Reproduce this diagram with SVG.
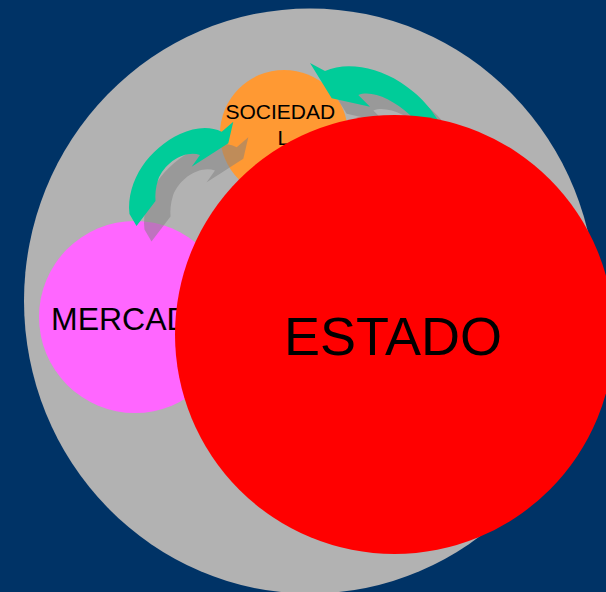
<svg xmlns="http://www.w3.org/2000/svg" width="606" height="592" viewBox="0 0 606 592">
<defs>
<style>
.lbl{font-family:"Liberation Sans",Arial,sans-serif;fill:#000}
.arrow{fill:#00CC99}
.shadow{fill:#808080;opacity:0.5}
</style>
<path id="arrowL" d="M136.5,226 L129.5,214 C126,180 150,148 180,134 C195,127 210,126 221.7,131.7 L233.3,121.7 L228.3,143.3 L191.7,166.7 L200,155 C185,150 165,162 158,180 C155.5,188 155,195 155.5,201 Z"/>
<path id="arrowR" d="M310,63 L325,71 C345,62 375,66 400,82 C420,95 432,108 445,132 L425,140 L410,115 C392,99 372,90 358.3,95 L370,106.7 L331.7,98.3 Z"/>
</defs>
<rect x="0" y="0" width="606" height="592" fill="#003366"/>
<g id="entorno">
<ellipse cx="310" cy="301" rx="286" ry="292.5" fill="#B2B2B2"/>
</g>
<g id="mercado">
<circle cx="135" cy="317" r="96" fill="#FF66FF"/>
<text class="lbl" x="51" y="329.5" font-size="32">MERCADO</text>
</g>
<g id="sociedad">
<circle cx="284" cy="134" r="64" fill="#FF9933"/>
<text class="lbl" x="225.5" y="119" font-size="21">SOCIEDAD</text>
<text class="lbl" x="277.5" y="145" font-size="21">L</text>
</g>
<g id="connectors">
<use href="#arrowL" class="shadow" transform="translate(15,15.5)"/>
<use href="#arrowR" class="shadow" transform="translate(15,15.5)"/>
<use href="#arrowL" class="arrow"/>
<use href="#arrowR" class="arrow"/>
</g>
<g id="estado">
<circle cx="394.5" cy="334.5" r="219.5" fill="#FF0000"/>
<text class="lbl" x="393" y="355" font-size="54" text-anchor="middle">ESTADO</text>
</g>
</svg>
